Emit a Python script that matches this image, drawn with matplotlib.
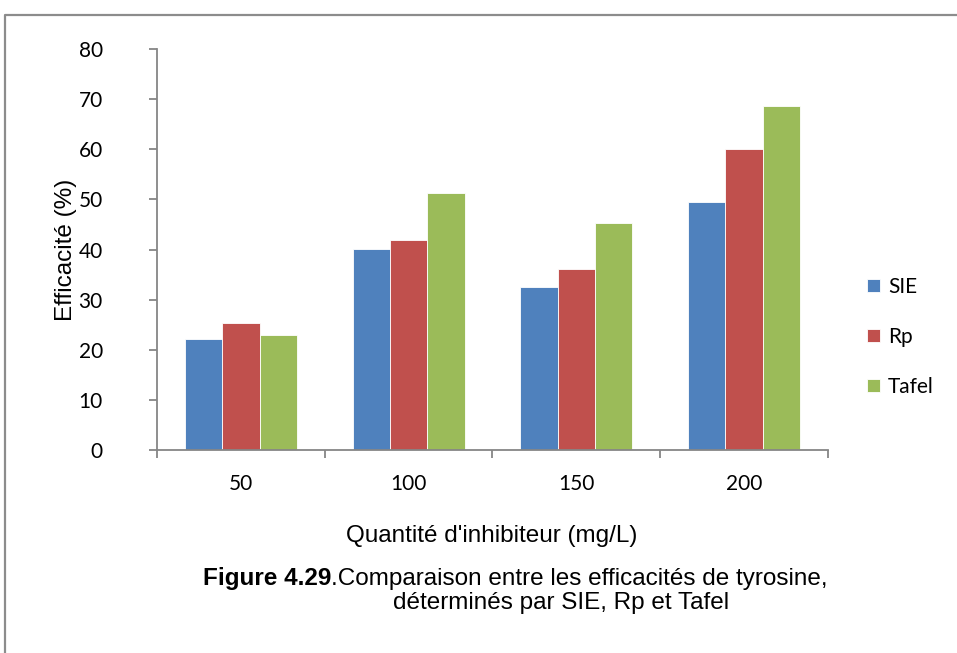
import matplotlib
matplotlib.use("Agg")
import matplotlib.pyplot as plt
from matplotlib.lines import Line2D
import numpy as np

categories = ["50", "100", "150", "200"]
series_names = ["SIE", "Rp", "Tafel"]
sie = [22.1, 40.1, 32.6, 49.4]
rp = [25.4, 41.9, 36.2, 60.0]
tafel = [23.0, 51.2, 45.2, 68.7]
colors = ["#4F81BD", "#C0504D", "#9BBB59"]

W, H = 957, 653
fig = plt.figure(figsize=(W / 100, H / 100), dpi=100)
fig.patch.set_facecolor("white")

def fx(px):
    return px / W

def fy(py):
    return 1 - py / H

# outer frame (top and left edges visible)
fig.add_artist(Line2D([fx(5), fx(5), fx(957)], [fy(653), fy(15), fy(15)],
                      transform=fig.transFigure, color="#8C8C8C", lw=1.6))

ax = fig.add_axes([fx(157), fy(450), fx(828) - fx(157), fy(49) - fy(450)])

x = np.arange(len(categories))
bw = 0.223
for i, (vals, name) in enumerate(zip([sie, rp, tafel], series_names)):
    ax.bar(x + (i - 1) * bw, vals, width=bw, color=colors[i], label=name,
           edgecolor="white", linewidth=0.6, zorder=2)

ax.set_xlim(-0.5, len(categories) - 0.5)
ax.set_ylim(0, 80)
ax.set_yticks(range(0, 81, 10))
ax.set_xticks(x)
ax.set_xticklabels(categories)
ax.set_xticks(np.arange(-0.5, len(categories)), minor=True)

for s in ["top", "right"]:
    ax.spines[s].set_visible(False)
for s in ["left", "bottom"]:
    ax.spines[s].set_color("#868686")
    ax.spines[s].set_linewidth(1.3)

ax.tick_params(axis="y", direction="out", length=6, width=1.3, color="#868686",
               pad=33, labelsize=15)
ax.tick_params(axis="x", which="major", length=0, pad=17, labelsize=15)
ax.tick_params(axis="x", which="minor", direction="out", length=6, width=1.3,
               color="#868686")
for lab in ax.get_xticklabels() + ax.get_yticklabels():
    lab.set_fontfamily("Lato")
    lab.set_color("black")

fig.text(fx(66), fy(250), "Efficacité (%)", rotation=90, ha="center", va="center",
         family="Liberation Sans", size=17.5)
fig.text(fx(492), fy(536), "Quantité d'inhibiteur (mg/L)", ha="center", va="center",
         family="Liberation Sans", size=17.5)

leg = ax.legend(loc="center left", bbox_to_anchor=(fx(867), fy(337)),
                bbox_transform=fig.transFigure, frameon=False,
                prop=dict(family="Lato", size=15),
                handlelength=0.6, handleheight=0.6, handletextpad=0.4,
                labelspacing=1.45, borderpad=0, borderaxespad=0)

bold = fig.text(fx(203), fy(578), "Figure 4.29", ha="left", va="center",
                family="Liberation Sans", weight="bold", size=17.5)
fig.canvas.draw()
ax.annotate(".Comparaison entre les efficacités de tyrosine,", xy=(1, 0),
            xycoords=bold, ha="left", va="bottom",
            family="Liberation Sans", size=17.5)
fig.text(fx(561), fy(603), "déterminés par SIE, Rp et Tafel", ha="center",
         va="center", family="Liberation Sans", size=17.5)

fig.savefig("out.png", dpi=100, facecolor="white")
